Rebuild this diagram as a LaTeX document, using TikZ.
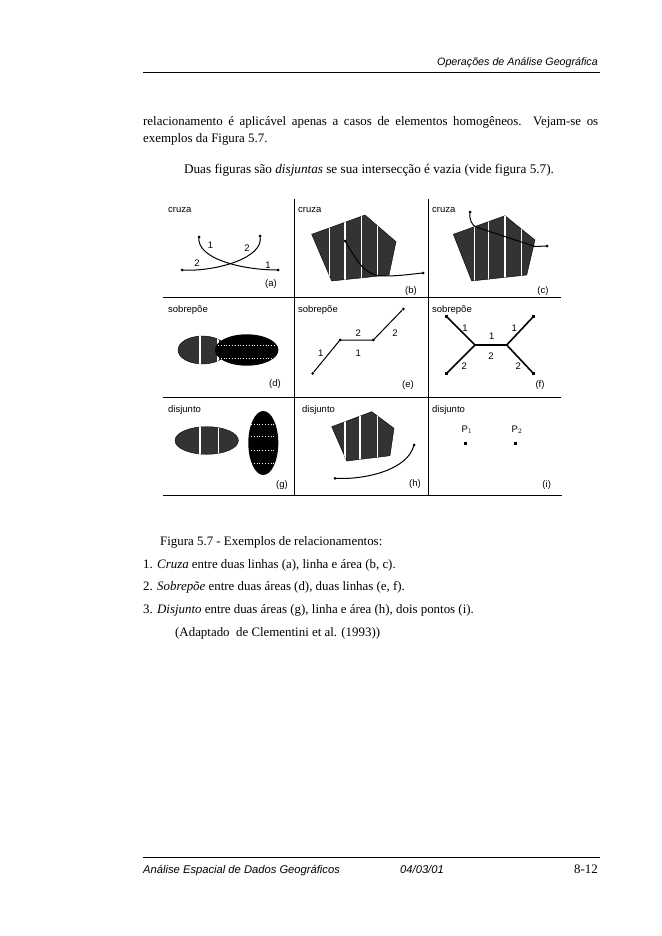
\documentclass[tikz,border=0pt]{standalone}
\usepackage{fontspec}
\setmainfont{Liberation Serif}
\setsansfont{Liberation Sans}
\begin{document}
\begin{tikzpicture}[x=1pt,y=-1pt,
  lbl/.style={font=\sffamily\fontsize{9.5}{11}\selectfont, inner sep=0pt},
  cl/.style={lbl, anchor=west},
  body/.style={font=\fontsize{12.9}{15}\selectfont, inner sep=0pt, anchor=base west},
  hf/.style={font=\sffamily\itshape\fontsize{10.7}{12}\selectfont, inner sep=0pt},
  gridline/.style={line width=0.8pt},
  hatch/.style={fill=black!80, draw=black, line width=0.4pt},
  stripe/.style={draw=white, line width=1.1pt},
  wdots/.style={draw=white, line width=0.8pt, dotted},
  ln/.style={line width=1pt},
  thk/.style={line width=1.6pt},
  pt/.style={circle, fill=black, inner sep=0pt, minimum size=3pt},
  sq/.style={rectangle, fill=black, inner sep=0pt, minimum size=2.5pt},
]
\useasboundingbox (0,0) rectangle (661,936);
\fill[white] (0,0) rectangle (661,936);

% header
\node[hf, anchor=base east] (hdr) at (598,66) {Operações de Análise Geográfica};
\coordinate (hrl) at (143,72);
\coordinate (hrr) at (600,72);
\draw[line width=0.8pt] (hrl) -- (hrr);

% body text
\node[body] (t1) at (143,126) {\hbox to 455pt{relacionamento é aplicável apenas a casos de elementos homogêneos. Vejam-se os}};
\node[body] (t2) at (143,143) {exemplos da Figura 5.7.};
\node[body, anchor=base, font=\fontsize{13.2}{15}\selectfont] (t3) at (369,174) {Duas figuras são \textit{disjuntas} se sua intersecção é vazia (vide figura 5.7).};

% grid
\coordinate (g1l) at (163,297); \coordinate (g1r) at (561,297);
\coordinate (g2l) at (163,397); \coordinate (g2r) at (561,397);
\coordinate (g3l) at (163,495); \coordinate (g3r) at (562,495);
\coordinate (v1t) at (294,199); \coordinate (v1b) at (294,495);
\coordinate (v2t) at (428,199); \coordinate (v2b) at (428,495);
\draw[gridline] (g1l) -- (g1r);
\draw[gridline] (g2l) -- (g2r);
\draw[gridline] (g3l) -- (g3r);
\draw[gridline] (v1t) -- (v1b);
\draw[gridline] (v2t) -- (v2b);

% ---- cell (a)
\node[cl] (la) at (168,210) {cruza};
\node[pt] (a1s) at (199,237) {};
\node[pt] (a1e) at (278,270) {};
\node[pt] (a2s) at (260,236) {};
\node[pt] (a2e) at (182,270) {};
\draw[ln] (a1s.center) .. controls (196,258) and (240,270) .. (a1e.center);
\draw[ln] (a2s.center) .. controls (265,258) and (215,272) .. (a2e.center);
\node[lbl] at (210.5,245) {1};
\node[lbl] at (247,248) {2};
\node[lbl] at (197,263) {2};
\node[lbl] at (268,265) {1};
\node[lbl] (ca) at (271,284) {(a)};

% ---- cell (b)
\node[cl] (lb) at (298,210) {cruza};
\begin{scope}
\path[hatch] (311.7,234.3) -- (365,215) -- (396,241.7) -- (389,275) -- (331.7,281) -- cycle;
\clip (311.7,234.3) -- (365,215) -- (396,241.7) -- (389,275) -- (331.7,281) -- cycle;
\foreach \x in {329.3,345,361.7,377.3} \draw[stripe] (\x,210) -- (\x,285);
\end{scope}
\node[pt] (bs) at (345,241) {};
\node[pt] (be) at (423,273) {};
\draw[ln] (bs.center) .. controls (358,262) and (364,276) .. (385,276) .. controls (400,276) and (412,274) .. (be.center);
\node[lbl] (cb) at (411,291) {(b)};

% ---- cell (c)
\node[cl] (lc) at (432,210) {cruza};
\begin{scope}
\path[hatch] (453.3,234.3) -- (505,215.7) -- (535,240) -- (526.7,275) -- (471.7,281) -- cycle;
\clip (453.3,234.3) -- (505,215.7) -- (535,240) -- (526.7,275) -- (471.7,281) -- cycle;
\foreach \x in {474.3,488.3,505,521.7} \draw[stripe] (\x,210) -- (\x,285);
\end{scope}
\node[pt] (cs) at (470,212) {};
\node[pt] (ce) at (547,246) {};
\draw[ln] (cs.center) .. controls (469,220) and (472,225) .. (476,227) -- (535,246.5) -- (ce.center);
\node[lbl] (cc) at (543,291) {(c)};

% ---- cell (d)
\node[cl] (ld) at (168,310) {sobrepõe};
\begin{scope}
\path[hatch] (202.5,350) ellipse [x radius=24.5, y radius=14];
\clip (202.5,350) ellipse [x radius=24.5, y radius=14];
\foreach \x in {200,218} \draw[stripe] (\x,330) -- (\x,370);
\end{scope}
\fill[black] (246.7,350) ellipse [x radius=31.7, y radius=15.7];
\draw[wdots] (218,345.5) -- (275,345.5);
\draw[wdots] (218,358) -- (275,358);
\node[lbl] (cd) at (275,384) {(d)};

% ---- cell (e)
\node[cl] (le) at (298,310) {sobrepõe};
\node[pt] (e1) at (312.7,373.3) {};
\node[pt] (e2) at (340,340) {};
\node[pt] (e3) at (373.3,340) {};
\node[pt] (e4) at (403.3,309) {};
\draw[ln] (e1) -- (e2.center) -- (e3.center) -- (e4);
\node[lbl] at (320.7,353.3) {1};
\node[lbl] at (358.3,333.3) {2};
\node[lbl] at (358.3,353.3) {1};
\node[lbl] at (395,333.3) {2};
\node[lbl] (ce2) at (408,385) {(e)};

% ---- cell (f)
\node[cl] (lf) at (432,310) {sobrepõe};
\node[sq] (f1) at (446.7,316.7) {};
\node[sq] (f2) at (446.7,373.3) {};
\node[sq] (f3) at (533.3,316.7) {};
\node[sq] (f4) at (533.3,373.3) {};
\coordinate (fj1) at (475,345);
\coordinate (fj2) at (506.7,345);
\draw[thk] (f1.center) -- (fj1) -- (f2.center);
\draw[line width=1.1pt] (fj1) -- (fj2);
\draw[thk] (f3.center) -- (fj2) -- (f4.center);
\node[lbl] at (465,328.3) {1};
\node[lbl] at (491.7,336.7) {1};
\node[lbl] at (514.3,328.3) {1};
\node[lbl] at (464.3,366) {2};
\node[lbl] at (491,356) {2};
\node[lbl] at (518.3,366) {2};
\node[lbl] (cf) at (540,385) {(f)};

% ---- cell (g)
\node[cl] (lg) at (168,410) {disjunto};
\begin{scope}
\path[hatch] (206.7,440.5) ellipse [x radius=31.7, y radius=13.8];
\clip (206.7,440.5) ellipse [x radius=31.7, y radius=13.8];
\foreach \x in {200,218.3} \draw[stripe] (\x,420) -- (\x,460);
\end{scope}
\fill[black] (263.3,443) ellipse [x radius=15, y radius=32];
\foreach \y in {424.3,436.7,450,463.3} \draw[wdots] (251,\y) -- (276,\y);
\node[lbl] (cg) at (282,485) {(g)};

% ---- cell (h)
\node[cl] (lh) at (302,410) {disjunto};
\begin{scope}
\path[hatch] (331.7,426.7) -- (371.7,411.7) -- (394,428.3) -- (390,455.7) -- (346.7,461) -- cycle;
\clip (331.7,426.7) -- (371.7,411.7) -- (394,428.3) -- (390,455.7) -- (346.7,461) -- cycle;
\foreach \x in {345,360,377.3} \draw[stripe] (\x,405) -- (\x,465);
\end{scope}
\node[pt] (hs) at (335,478.3) {};
\node[pt] (he) at (414,445) {};
\draw[ln] (hs.center) .. controls (365,480) and (408,470) .. (he.center);
\node[lbl] (ch) at (415,484.5) {(h)};

% ---- cell (i)
\node[cl] (li) at (432,410) {disjunto};
\node[lbl] (p1) at (467,430) {P$_1$};
\node[lbl] (p2) at (517,430) {P$_2$};
\node[sq] (d1) at (465.7,443.3) {};
\node[sq] (d2) at (515.7,443.3) {};
\node[lbl] (ci) at (546.7,485) {(i)};

% caption
\node[body] (c0) at (160,545) {Figura 5.7 - Exemplos de relacionamentos:};
\node[body] (c1) at (143,568) {1. \textit{Cruza} entre duas linhas (a), linha e área (b, c).};
\node[body] (c2) at (143,590) {2. \textit{Sobrepõe} entre duas áreas (d), duas linhas (e, f).};
\node[body] (c3) at (143,613) {3. \textit{Disjunto} entre duas áreas (g), linha e área (h), dois pontos (i).};
\node[body] (c4) at (175,636) {(Adaptado\ \ de Clementini et al. (1993))};

% footer
\coordinate (frl) at (143,857);
\coordinate (frr) at (600,857);
\draw[line width=0.8pt] (frl) -- (frr);
\node[hf, anchor=base west, font=\sffamily\itshape\fontsize{11.2}{12}\selectfont] (f1t) at (143,873) {Análise Espacial de Dados Geográficos};
\node[hf, anchor=base, font=\sffamily\itshape\fontsize{11.2}{12}\selectfont] (f2t) at (422,873) {04/03/01};
\node[body, anchor=base east] (f3t) at (598,873) {8-12};
\end{tikzpicture}
\end{document}
